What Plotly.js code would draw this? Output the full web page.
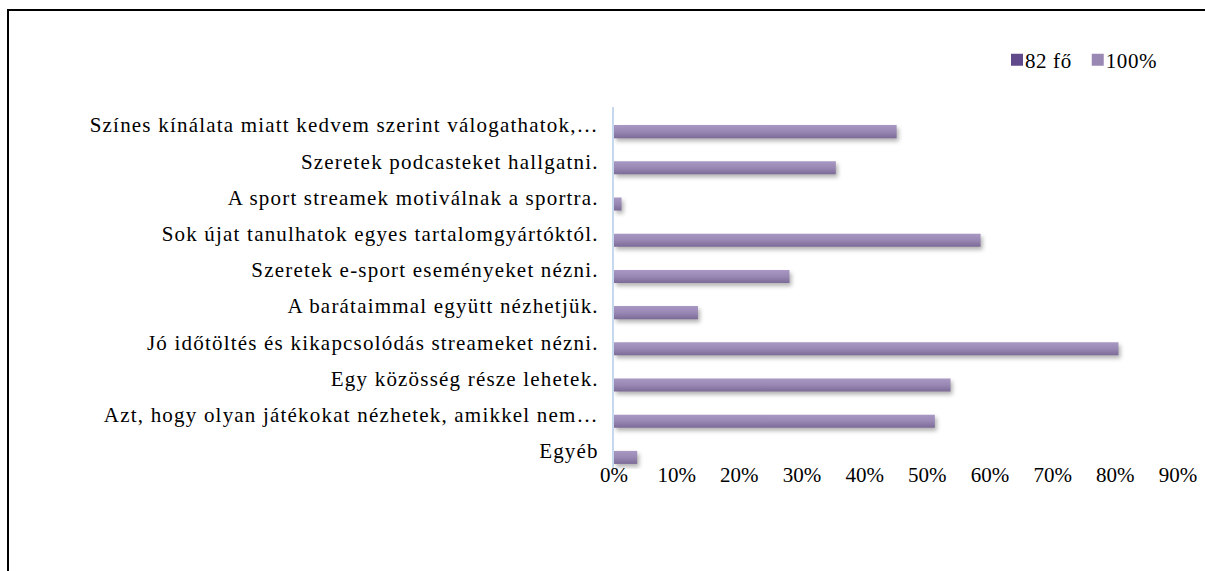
<!DOCTYPE html>
<html>
<head>
<meta charset="utf-8">
<script src="https://cdn.plot.ly/plotly-3.0.1.min.js"></script>
<style>
  html, body { margin: 0; padding: 0; overflow: hidden; background: #fff; }
  #frame { position: absolute; left: 7px; top: 9px; width: 1400px; height: 800px;
           border-left: 2px solid #000; border-top: 2px solid #000; }
  #chart { position: absolute; left: 0; top: 0; width: 1205px; height: 571px; }
  #chart .ytick text { letter-spacing: 1.2px; }
  #chart .legendtext { letter-spacing: 0.6px; }
  #chart .bars path {
    fill: url(#barGrad) !important;
    filter: drop-shadow(2px 3px 2px rgba(0,0,0,0.30));
  }
</style>
</head>
<body>
<svg width="0" height="0" style="position:absolute">
  <defs>
    <linearGradient id="barGrad" x1="0" y1="0" x2="0" y2="1">
      <stop offset="0" stop-color="#a998c3"/>
      <stop offset="0.5" stop-color="#9a88b4"/>
      <stop offset="1" stop-color="#7d6b97"/>
    </linearGradient>
  </defs>
</svg>
<div id="frame"></div>
<div id="chart"></div>
<script>
// Categories, top to bottom as shown
const categories = [
  "Színes kínálata miatt kedvem szerint válogathatok,…",
  "Szeretek podcasteket hallgatni.",
  "A sport streamek motiválnak a sportra.",
  "Sok újat tanulhatok egyes tartalomgyártóktól.",
  "Szeretek e-sport eseményeket nézni.",
  "A barátaimmal együtt nézhetjük.",
  "Jó időtöltés és kikapcsolódás streameket nézni.",
  "Egy közösség része lehetek.",
  "Azt, hogy olyan játékokat nézhetek, amikkel nem…",
  "Egyéb"
];
// Series "100%" (share of respondents)
const share = [0.451, 0.354, 0.012, 0.585, 0.280, 0.134, 0.805, 0.537, 0.512, 0.037];
// Series "82 fő" (no visible bars in the chart, only a legend entry)
const countSeries = [null, null, null, null, null, null, null, null, null, null];
const tickVals = [0, 0.1, 0.2, 0.3, 0.4, 0.5, 0.6, 0.7, 0.8, 0.9];
const tickText = ["0%", "10%", "20%", "30%", "40%", "50%", "60%", "70%", "80%", "90%"];

const font = { family: "'Liberation Serif', 'Times New Roman', serif", size: 21, color: "#000" };

const traces = [
  {
    type: "bar", orientation: "h", name: "82 fő",
    y: categories, x: countSeries,
    marker: { color: "#604a8c" },
    hoverinfo: "skip"
  },
  {
    type: "bar", orientation: "h", name: "100%",
    y: categories, x: share,
    width: 0.36, offset: 0,
    marker: { color: "#9a88b4", line: { width: 0 } }
  }
];

const layout = {
  width: 1205, height: 571,
  paper_bgcolor: "rgba(0,0,0,0)",
  plot_bgcolor: "rgba(0,0,0,0)",
  font: font,
  margin: { l: 614, r: 27, t: 107, b: 102, pad: 0 },
  barmode: "overlay",
  showlegend: true,
  legend: {
    orientation: "h", x: 1.0, xanchor: "right",
    y: 1 - 60 / 571, yanchor: "middle", yref: "container",
    font: font, traceorder: "normal",
    itemwidth: 30, bgcolor: "rgba(0,0,0,0)"
  },
  xaxis: {
    range: [0, 0.9], tickvals: tickVals, ticktext: tickText,
    showgrid: false, zeroline: false, showline: false, ticks: "",
    tickfont: font, ticklabelstandoff: -9, fixedrange: true
  },
  yaxis: {
    autorange: "reversed", showgrid: false, zeroline: false,
    showline: true, linecolor: "#c5d8ee", linewidth: 2,
    ticks: "", tickfont: font, ticklabelstandoff: 9, fixedrange: true
  }
};

Plotly.newPlot("chart", traces, layout, { displayModeBar: false, staticPlot: true }).then(function (gd) {
  // Tighten legend: square right next to its text, like the original
  const items = gd.querySelectorAll("g.legend g.traces");
  let x = 0;
  items.forEach(function (g) {
    const t = g.querySelector("text.legendtext");
    t.setAttribute("x", 28);
    const m = /translate\(([-\d.e]+)[ ,]+([-\d.e]+)\)/.exec(g.getAttribute("transform") || "");
    const y = m ? m[2] : 0;
    g.setAttribute("transform", "translate(" + x + "," + y + ")");
    x += 28 + t.getBBox().width + 6;
  });
  const firstSym = gd.querySelector("g.legend g.traces .legendpoints path");
  const leg = gd.querySelector("g.legend");
  if (firstSym && leg) {
    const r = firstSym.getBoundingClientRect();
    const m = /translate\(([-\d.e]+)[ ,]+([-\d.e]+)\)/.exec(leg.getAttribute("transform") || "");
    if (m) {
      const lx = parseFloat(m[1]) + (1011 - r.left);
      leg.setAttribute("transform", "translate(" + lx + "," + m[2] + ")");
    }
  }
});
</script>
</body>
</html>
